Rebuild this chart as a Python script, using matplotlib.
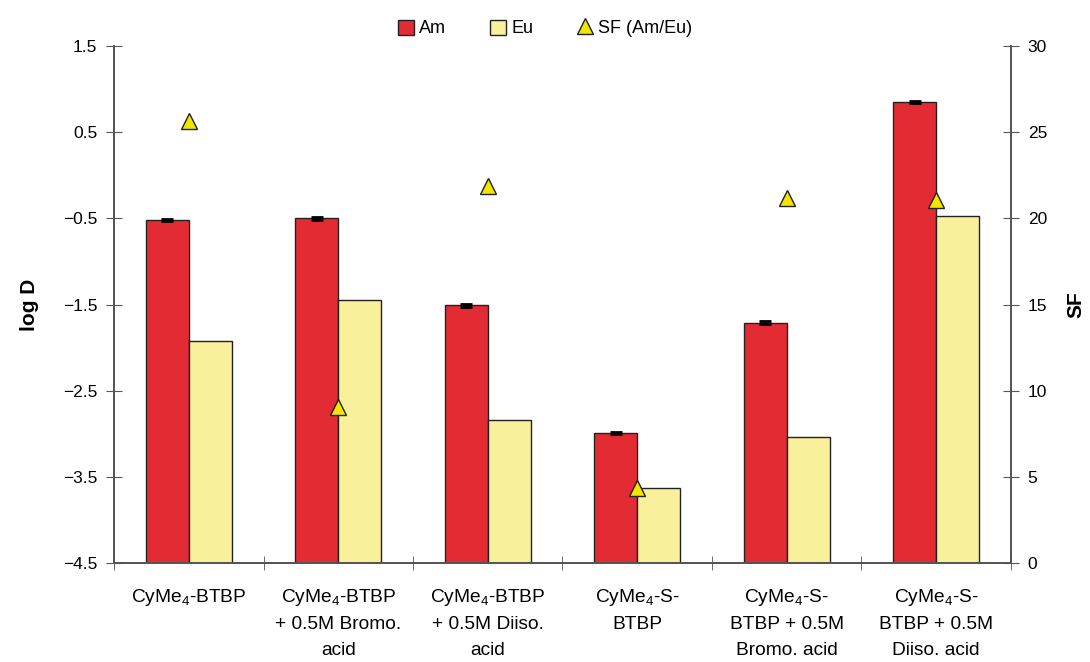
import numpy as np
import matplotlib.pyplot as plt
from matplotlib.lines import Line2D
from matplotlib.patches import Patch

plt.rcParams['font.family'] = ['Liberation Sans', 'DejaVu Sans']
plt.rcParams['mathtext.fontset'] = 'custom'
plt.rcParams['mathtext.rm'] = 'Liberation Sans'
plt.rcParams['mathtext.it'] = 'Liberation Sans'

categories = [
    "CyMe$_4$-BTBP",
    "CyMe$_4$-BTBP\n+ 0.5M Bromo.\nacid",
    "CyMe$_4$-BTBP\n+ 0.5M Diiso.\nacid",
    "CyMe$_4$-S-\nBTBP",
    "CyMe$_4$-S-\nBTBP + 0.5M\nBromo. acid",
    "CyMe$_4$-S-\nBTBP + 0.5M\nDiiso. acid",
]
logd_am = [-0.52, -0.50, -1.51, -2.99, -1.71, 0.85]
logd_am_err = [0.015, 0.015, 0.015, 0.015, 0.015, 0.015]
logd_eu = [-1.92, -1.45, -2.84, -3.63, -3.04, -0.47]
sf = [25.65, 9.05, 21.9, 4.35, 21.2, 21.07]

am_color = '#e32b33'
eu_color = '#f8f09a'
edge = '#222222'
axis_color = '#555555'
ymin, ymax = -4.5, 1.5

fig = plt.figure(figsize=(10.9, 6.62), dpi=100)
ax = fig.add_axes([0.1046, 0.1495, 0.8229, 0.781])

x = np.arange(len(categories))
w = 0.288
# bars rise from the bottom of the log D axis
ax.bar(x - w / 2, np.array(logd_am) - ymin, width=w, bottom=ymin,
       color=am_color, edgecolor=edge, linewidth=1.0, zorder=2)
ax.bar(x + w / 2, np.array(logd_eu) - ymin, width=w, bottom=ymin,
       color=eu_color, edgecolor=edge, linewidth=1.0, zorder=2)
ax.errorbar(x - w / 2, logd_am, yerr=logd_am_err, fmt='none',
            ecolor='black', elinewidth=1.2, capsize=4, capthick=2, zorder=3)

ax.set_xlim(-0.5, len(categories) - 0.5)
ax.set_ylim(ymin, ymax)
yt = np.arange(ymin, ymax + 0.1, 1.0)
ax.set_yticks(yt)
ax.set_yticklabels([f"{v:.1f}".replace('-', '\u2212') for v in yt])

ax.set_xticks(x)
ax.set_xticklabels(categories, fontsize=13.8, linespacing=1.66, va='top')
ax.set_xticks(np.arange(-0.5, len(categories), 1.0), minor=True)
ax.tick_params(axis='x', which='major', length=0, pad=17)
ax.tick_params(axis='x', which='minor', length=10, direction='inout', color=axis_color)
ax.tick_params(axis='y', direction='inout', length=12, color=axis_color,
               labelsize=12.5, pad=6)
ax.set_ylabel('log D', fontsize=15, fontweight='bold', labelpad=17)

ax2 = ax.twinx()
ax2.set_ylim(0, 30)
ax2.set_yticks(np.arange(0, 31, 5))
ax2.plot(x, sf, linestyle='none', marker='^', markersize=11,
         markerfacecolor='#f2e600', markeredgecolor=edge, markeredgewidth=1.0,
         zorder=4)
ax2.tick_params(axis='y', direction='inout', length=12, color=axis_color,
                labelsize=12.5, pad=6)
ax2.set_ylabel('SF', fontsize=15, fontweight='bold', labelpad=14)

for a in (ax, ax2):
    a.spines['top'].set_visible(False)
    for s in ['left', 'right', 'bottom']:
        a.spines[s].set_color(axis_color)
        a.spines[s].set_linewidth(1.3)

handles = [
    Patch(facecolor=am_color, edgecolor=edge, label='Am'),
    Patch(facecolor=eu_color, edgecolor=edge, label='Eu'),
    Line2D([], [], linestyle='none', marker='^', markersize=11,
           markerfacecolor='#f2e600', markeredgecolor=edge, label='SF (Am/Eu)'),
]
fig.legend(handles=handles, loc='upper center', bbox_to_anchor=(0.5, 0.995),
           ncol=3, frameon=False, fontsize=13, handlelength=0.9,
           handleheight=0.9, handletextpad=0.3, columnspacing=2.4)

fig.savefig('out.png', dpi=100)
